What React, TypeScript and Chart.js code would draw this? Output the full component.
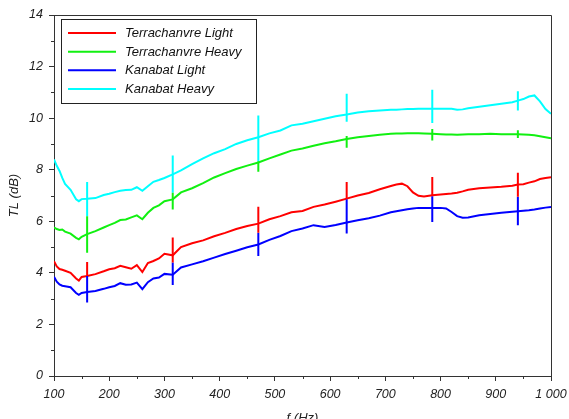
import React, { useEffect, useRef } from 'react';
import { Chart, registerables } from 'chart.js';

Chart.register(...registerables);

const FONT = '"Liberation Sans", Arial, Helvetica, sans-serif';

// Frequency axis samples (Hz)
const freq = [100,105,110,115,120,130,140,145,150,160,175,190,200,210,220,230,240,250,260,270,280,290,300,315,330,350,370,390,410,430,450,470,490,510,530,550,570,590,610,630,650,670,690,710,720,730,740,750,760,770,785,800,810,820,830,840,850,870,890,910,930,940,950,960,970,980,990,1000];

const terraLight = [4.45,4.25,4.15,4.12,4.08,4.00,3.78,3.70,3.84,3.88,3.95,4.06,4.14,4.18,4.27,4.22,4.16,4.30,4.03,4.38,4.46,4.56,4.74,4.68,5.00,5.15,5.26,5.42,5.55,5.70,5.82,5.91,6.08,6.20,6.35,6.40,6.56,6.65,6.76,6.88,7.00,7.10,7.24,7.37,7.43,7.46,7.36,7.12,6.99,6.96,7.01,7.04,7.06,7.08,7.11,7.16,7.22,7.28,7.31,7.34,7.38,7.43,7.44,7.50,7.55,7.64,7.68,7.71];
const terraHeavy = [5.76,5.70,5.66,5.68,5.60,5.52,5.36,5.30,5.40,5.50,5.62,5.76,5.85,5.94,6.05,6.07,6.15,6.23,6.08,6.33,6.52,6.62,6.78,6.85,7.12,7.28,7.48,7.70,7.87,8.03,8.16,8.28,8.44,8.59,8.74,8.82,8.93,9.03,9.10,9.19,9.26,9.31,9.36,9.39,9.40,9.40,9.41,9.41,9.41,9.40,9.39,9.38,9.37,9.37,9.36,9.37,9.38,9.38,9.39,9.38,9.38,9.38,9.37,9.36,9.34,9.30,9.26,9.22];
const kanaLight = [3.85,3.66,3.55,3.50,3.48,3.44,3.22,3.15,3.22,3.26,3.30,3.38,3.44,3.49,3.60,3.54,3.55,3.62,3.37,3.64,3.78,3.82,3.96,3.93,4.21,4.33,4.45,4.59,4.73,4.86,4.99,5.10,5.28,5.43,5.62,5.72,5.85,5.78,5.86,5.95,6.04,6.12,6.22,6.35,6.39,6.43,6.47,6.50,6.52,6.52,6.52,6.52,6.50,6.36,6.20,6.14,6.15,6.23,6.28,6.33,6.37,6.39,6.41,6.43,6.46,6.50,6.53,6.55];
const kanaHeavy = [8.40,8.15,7.95,7.68,7.45,7.22,6.85,6.78,6.86,6.87,6.90,7.02,7.07,7.13,7.18,7.21,7.22,7.32,7.18,7.36,7.53,7.60,7.68,7.82,7.97,8.22,8.44,8.64,8.80,9.00,9.14,9.26,9.41,9.52,9.72,9.78,9.88,9.98,10.07,10.14,10.22,10.27,10.30,10.33,10.33,10.34,10.35,10.35,10.36,10.36,10.36,10.36,10.36,10.36,10.33,10.34,10.38,10.44,10.50,10.56,10.62,10.68,10.74,10.84,10.88,10.65,10.35,10.17];

// Error bar positions and visible extents
const barFreq = [160, 315, 470, 630, 785, 940];
const terraLightHi = [4.42, 5.37, 6.56, 7.52, 7.72, 7.88];
const terraLightLo = [3.88, 4.40, 5.56, 6.85, 6.97, 6.95];
const terraHeavyHi = [6.20, 7.11, 8.33, 9.31, 9.58, 9.53];
const terraHeavyLo = [4.78, 6.46, 7.92, 8.85, 9.13, 9.23];
const kanaLightHi = [3.88, 4.40, 5.56, 6.85, 6.97, 6.95];
const kanaLightLo = [2.85, 3.53, 4.65, 5.53, 5.97, 5.85];
const kanaHeavyHi = [7.52, 8.55, 10.10, 10.95, 11.10, 11.04];
const kanaHeavyLo = [6.20, 7.11, 8.33, 9.86, 9.81, 10.30];

const seriesLabels = ['Terrachanvre Light', 'Terrachanvre Heavy', 'Kanabat Light', 'Kanabat Heavy'];
const seriesColors = ['#ff0000', '#11f011', '#0000ff', '#00ffff'];

const xTicksMajor = [100, 200, 300, 400, 500, 600, 700, 800, 900, 1000];
const xTicksMinor = [150, 250, 350, 450, 550, 650, 750, 850, 950];
const yTicksMinor = [1, 3, 5, 7, 9, 11, 13];

export default function App() {
  const ref = useRef<HTMLCanvasElement>(null);

  useEffect(() => {
    if (!ref.current) return;
    const toPts = (vals: number[]) => freq.map((f, i) => ({ x: f, y: vals[i] }));
    const toBars = (hi: number[], lo: number[]) => {
      const out: any[] = [];
      barFreq.forEach((f, i) => {
        out.push({ x: f, y: hi[i] }, { x: f, y: lo[i] }, { x: f, y: null });
      });
      return out;
    };
    const curves = [terraLight, terraHeavy, kanaLight, kanaHeavy];
    const bars = [
      [terraLightHi, terraLightLo],
      [terraHeavyHi, terraHeavyLo],
      [kanaLightHi, kanaLightLo],
      [kanaHeavyHi, kanaHeavyLo],
    ];

    const datasets: any[] = [];
    bars.forEach((b, i) => {
      datasets.push({
        label: seriesLabels[i] + ' err',
        isErr: true,
        data: toBars(b[0], b[1]),
        borderColor: seriesColors[i],
        borderWidth: 2,
        pointRadius: 0,
        spanGaps: false,
        fill: false,
      });
    });
    curves.forEach((c, i) => {
      datasets.push({
        label: seriesLabels[i],
        data: toPts(c),
        borderColor: seriesColors[i],
        backgroundColor: seriesColors[i],
        borderWidth: 2,
        pointRadius: 0,
        tension: 0,
        fill: false,
      });
    });

    const framePlugin = {
      id: 'frameLegend',
      afterDraw(chart: any) {
        const { ctx, chartArea } = chart;
        const xs = chart.scales.x;
        const ys = chart.scales.y;
        ctx.save();
        ctx.strokeStyle = '#333';
        ctx.lineWidth = 1;
        ctx.beginPath();
        ctx.moveTo(chartArea.left, chartArea.top + 0.5);
        ctx.lineTo(chartArea.right + 0.5, chartArea.top + 0.5);
        ctx.lineTo(chartArea.right + 0.5, chartArea.bottom);
        ctx.stroke();
        ctx.beginPath();
        xTicksMinor.forEach((v) => {
          const px = Math.round(xs.getPixelForValue(v)) + 0.5;
          ctx.moveTo(px, chartArea.bottom);
          ctx.lineTo(px, chartArea.bottom + 3);
        });
        yTicksMinor.forEach((v) => {
          const py = Math.round(ys.getPixelForValue(v)) + 0.5;
          ctx.moveTo(chartArea.left - 3, py);
          ctx.lineTo(chartArea.left, py);
        });
        ctx.stroke();

        const lx = 61, ly = 19, lw = 195, lh = 84;
        ctx.fillStyle = '#ffffff';
        ctx.fillRect(lx, ly, lw, lh);
        ctx.strokeStyle = '#222';
        ctx.lineWidth = 1;
        ctx.strokeRect(lx + 0.5, ly + 0.5, lw, lh);
        const items = chart.data.datasets.filter((d: any) => !d.isErr);
        ctx.font = 'italic 13px ' + FONT;
        ctx.textBaseline = 'middle';
        ctx.textAlign = 'left';
        items.forEach((d: any, i: number) => {
          const cy = 33 + i * 18.67;
          ctx.strokeStyle = d.borderColor;
          ctx.lineWidth = 2;
          ctx.beginPath();
          ctx.moveTo(68, cy);
          ctx.lineTo(116, cy);
          ctx.stroke();
          ctx.fillStyle = '#111';
          ctx.fillText(d.label, 125, cy + 0.5);
        });
        ctx.restore();
      },
    };

    const tickFont = { family: FONT, size: 12.5, style: 'italic' as const };
    const chart = new Chart(ref.current, {
      type: 'line',
      data: { datasets },
      options: {
        animation: false,
        responsive: false,
        events: [],
        layout: { padding: { top: 15, right: 18, left: 0, bottom: 0 } },
        plugins: {
          legend: { display: false },
          tooltip: { enabled: false },
        },
        scales: {
          x: {
            type: 'linear',
            min: 100,
            max: 1000,
            afterFit: (s: any) => { s.height = 43; s.paddingLeft = 0; s.paddingRight = 0; },
            afterBuildTicks: (s: any) => { s.ticks = xTicksMajor.map((v) => ({ value: v })); },
            ticks: {
              color: '#222',
              font: tickFont,
              padding: 6,
              maxRotation: 0,
              autoSkip: false,
              callback: (v: any) => (Number(v) === 1000 ? '1 000' : String(v)),
            },
            grid: { drawOnChartArea: false, drawTicks: true, tickLength: 5, color: '#333' },
            border: { display: true, color: '#333', width: 1 },
            title: {
              display: true,
              text: 'f (Hz)',
              color: '#222',
              font: { family: FONT, size: 13, style: 'italic' },
              padding: { top: 0, bottom: -7 },
            },
          },
          y: {
            type: 'linear',
            min: 0,
            max: 14,
            afterFit: (s: any) => { s.width = 54; s.paddingTop = 0; s.paddingBottom = 0; },
            ticks: { stepSize: 2, color: '#222', font: tickFont, padding: 6 },
            grid: { drawOnChartArea: false, drawTicks: true, tickLength: 5, color: '#333' },
            border: { display: true, color: '#333', width: 1 },
            title: {
              display: true,
              text: 'TL (dB)',
              color: '#222',
              font: { family: FONT, size: 13, style: 'italic' },
              padding: { top: 7, bottom: 0 },
            },
          },
        },
      },
      plugins: [framePlugin],
    } as any);

    return () => chart.destroy();
  }, []);

  return (
    <div style={{ position: 'absolute', left: 0, top: 0, width: 569, height: 419, background: '#fff' }}>
      <canvas ref={ref} width={569} height={419} style={{ display: 'block', width: 569, height: 419 }} />
    </div>
  );
}
